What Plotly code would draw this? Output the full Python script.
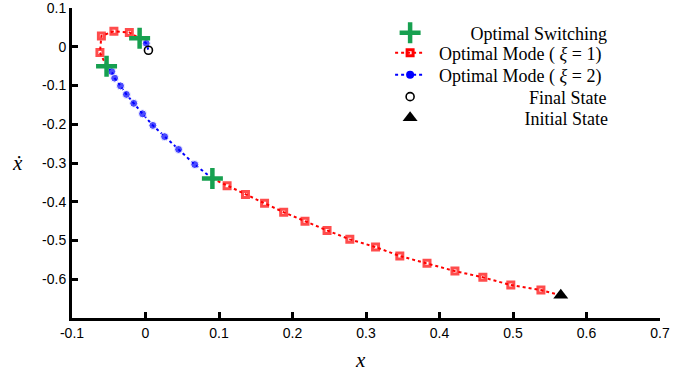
import plotly.graph_objects as go

# ---- data ----
initial_state = (0.565, -0.641)
final_state = (0.004, -0.009)

switch_x = [0.091, -0.053, -0.008]
switch_y = [-0.340, -0.050, 0.022]

# mode 1 (xi = 1), first arc: from initial state to first switch
mode1a_x = [0.538, 0.497, 0.459, 0.421, 0.383, 0.346, 0.313, 0.278, 0.247, 0.217, 0.188, 0.162, 0.136, 0.111]
mode1a_y = [-0.628, -0.615, -0.595, -0.579, -0.559, -0.540, -0.517, -0.497, -0.474, -0.450, -0.427, -0.404, -0.381, -0.359]

# mode 2 (xi = 2), first arc: from first switch to second switch
mode2a_x = [0.067, 0.045, 0.026, 0.010, -0.004, -0.016, -0.026, -0.034, -0.042, -0.046]
mode2a_y = [-0.304, -0.265, -0.232, -0.203, -0.173, -0.146, -0.123, -0.101, -0.081, -0.064]

# mode 1, second arc: from second switch to third switch
mode1b_x = [-0.062, -0.060, -0.043, -0.022]
mode1b_y = [-0.015, 0.028, 0.040, 0.037]

# mode 2, second arc: from third switch to final state
mode2b_x = [0.001]
mode2b_y = [0.009]

x_ticks = [-0.1, 0, 0.1, 0.2, 0.3, 0.4, 0.5, 0.6, 0.7]
x_ticktext = ["-0.1", "0", "0.1", "0.2", "0.3", "0.4", "0.5", "0.6", "0.7"]
y_ticks = [-0.6, -0.5, -0.4, -0.3, -0.2, -0.1, 0, 0.1]
y_ticktext = ["-0.6", "-0.5", "-0.4", "-0.3", "-0.2", "-0.1", "0", "0.1"]

RED = "#ff0000"
BLUE = "#0000ff"
GREEN = "#17a050"
NB = "\u00a0"

def seg(pts_x, pts_y, start, end):
    xs = [start[0]] + pts_x + [end[0]]
    ys = [start[1]] + pts_y + [end[1]]
    sizes = [0] + [1] * len(pts_x) + [0]
    return xs, ys, sizes

s1 = (switch_x[0], switch_y[0])
s2 = (switch_x[1], switch_y[1])
s3 = (switch_x[2], switch_y[2])

r1x, r1y, r1s = seg(mode1a_x, mode1a_y, initial_state, s1)
r2x, r2y, r2s = seg(mode1b_x, mode1b_y, s2, s3)
b1x, b1y, b1s = seg(mode2a_x, mode2a_y, s1, s2)
b2x, b2y, b2s = seg(mode2b_x, mode2b_y, s3, final_state)

fig = go.Figure()

SQ = 6
SQW = 3
DOT = 8

for xs, ys, ss in [(r1x, r1y, r1s), (r2x, r2y, r2s)]:
    fig.add_trace(go.Scatter(
        x=xs, y=ys, mode="lines+markers",
        line=dict(color=RED, width=2, dash="dot"),
        marker=dict(symbol="square-open", size=[SQ * s for s in ss], color=RED,
                    line=dict(color=RED, width=SQW)),
        showlegend=False, hoverinfo="skip"))
for xs, ys, ss in [(b1x, b1y, b1s), (b2x, b2y, b2s)]:
    fig.add_trace(go.Scatter(
        x=xs, y=ys, mode="lines+markers",
        line=dict(color=BLUE, width=2, dash="dot"),
        marker=dict(symbol="circle", size=[DOT * s for s in ss], color=BLUE),
        showlegend=False, hoverinfo="skip"))

def lab(text, pad):
    return NB * (2 + pad) + text

fig.add_trace(go.Scatter(
    x=switch_x, y=switch_y, mode="markers", name=lab("Optimal Switching", 7),
    legend="legend",
    marker=dict(symbol="cross-thin-open", size=15, color=GREEN,
                line=dict(color=GREEN, width=4.5))))
fig.add_trace(go.Scatter(
    x=[None], y=[None], mode="lines+markers", name=lab("Optimal Mode (" + NB + "<i>ξ</i> = 1)", 0),
    legend="legend2",
    line=dict(color=RED, width=2, dash="dot"),
    marker=dict(symbol="square-open", size=SQ, color=RED, line=dict(color=RED, width=SQW))))
fig.add_trace(go.Scatter(
    x=[None], y=[None], mode="lines+markers", name=lab("Optimal Mode (" + NB + "<i>ξ</i> = 2)", 0),
    legend="legend3",
    line=dict(color=BLUE, width=2, dash="dot"),
    marker=dict(symbol="circle", size=DOT, color=BLUE)))
fig.add_trace(go.Scatter(
    x=[final_state[0]], y=[final_state[1]], mode="markers", name=lab("Final State", 20),
    legend="legend4",
    marker=dict(symbol="circle-open", size=8, color="black", line=dict(color="black", width=1.6))))
fig.add_trace(go.Scatter(
    x=[initial_state[0]], y=[initial_state[1]], mode="markers", name=lab("Initial State", 19),
    legend="legend5",
    marker=dict(symbol="triangle-up", size=13, color="black")))

axis_common = dict(
    showgrid=False, zeroline=False, showline=True, linecolor="black", linewidth=3,
    ticks="inside", ticklen=6, tickwidth=3, tickcolor="black",
    tickfont=dict(family="Liberation Sans, Arial", size=14, color="black"),
    mirror=False, automargin=False, ticklabeloverflow="allow",
)

legend_rows = [0.919, 0.855, 0.784, 0.713, 0.645]

def legend_at(yc):
    return dict(x=0.541, y=yc, xanchor="left", yanchor="middle",
                bgcolor="rgba(0,0,0,0)", borderwidth=0,
                font=dict(family="Liberation Serif", size=18, color="black"),
                itemwidth=30)

fig.update_layout(
    width=700, height=377,
    margin=dict(l=72, r=40, t=8, b=59),
    paper_bgcolor="white", plot_bgcolor="white",
    xaxis=dict(range=[-0.1, 0.7], tickvals=x_ticks, ticktext=x_ticktext, **axis_common),
    yaxis=dict(range=[-0.7, 0.1], tickvals=y_ticks, ticktext=y_ticktext, **axis_common),
    legend=legend_at(legend_rows[0]),
    legend2=legend_at(legend_rows[1]),
    legend3=legend_at(legend_rows[2]),
    legend4=legend_at(legend_rows[3]),
    legend5=legend_at(legend_rows[4]),
    annotations=[
        dict(text="<i>x\u0307</i>", xref="paper", yref="paper", x=-0.092, y=0.5,
             xanchor="center", yanchor="middle",
             showarrow=False, font=dict(family="Liberation Serif", size=21, color="black")),
        dict(text="<i>x</i>", xref="paper", yref="paper", x=0.49, y=-0.135,
             xanchor="center", yanchor="middle",
             showarrow=False, font=dict(family="Liberation Serif", size=21, color="black")),
    ],
)

fig.write_html("out.html", config={"displayModeBar": False},
               post_script="document.body.style.margin='0';")
